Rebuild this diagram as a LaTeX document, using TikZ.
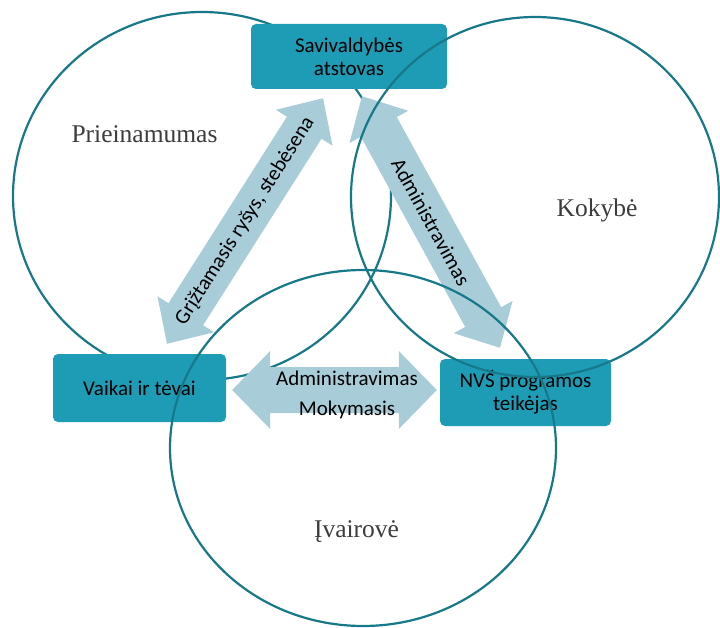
\documentclass[tikz,border=0pt]{standalone}
\usepackage{fontspec}
\newfontfamily\calibri{Carlito}
\newfontfamily\antiqua{Liberation Serif}
\usepackage{tikz}
\usetikzlibrary{calc}
\definecolor{boxteal}{HTML}{1F9CB5}
\definecolor{ringteal}{HTML}{17788A}
\definecolor{arrowblue}{HTML}{A8CDD8}
\definecolor{labelgray}{HTML}{3C3C3C}

% fat double arrow: tip, tip, half shaft, half head, head length
\newcommand{\fatarrow}[5]{%
  \coordinate (fa1) at ($(#1)!#5!(#2)$);
  \coordinate (fa2) at ($(#2)!#5!(#1)$);
  \fill[arrowblue] (#1) -- ($(fa1)!#4!-90:(#2)$) -- ($(fa1)!#3!-90:(#2)$)
    -- ($(fa2)!#3!90:(#1)$) -- ($(fa2)!#4!90:(#1)$) -- (#2)
    -- ($(fa2)!#4!-90:(#1)$) -- ($(fa2)!#3!-90:(#1)$)
    -- ($(fa1)!#3!90:(#2)$) -- ($(fa1)!#4!90:(#2)$) -- cycle;}

\begin{document}
\begin{tikzpicture}
    [x=1pt, y=-1pt,
 box/.style ={rectangle, fill=boxteal, rounded corners=5pt, align=center, inner sep=0pt, font=\calibri\fontsize{21}{23}\selectfont},
 ring/.style ={draw=ringteal, line width=2.2pt},
 tag/.style ={font=\antiqua\fontsize{25.5}{28}\selectfont, text=labelgray, anchor=base},
 arrowtext/.style ={font=\calibri\fontsize{21}{23}\selectfont, inner sep=0pt}]
    \useasboundingbox (0,0) rectangle (720,628);
    % Prieinamumas ring sits under boxes and arrows
    \draw[ring] (202,196) ellipse [x radius=189pt, y radius=184pt];
        \node[box, minimum width=196pt, minimum height=65pt] (sav) at (349,56.5) {Savivaldybės\\atstovas};
        \node[box, minimum width=173pt, minimum height=68pt] (vaik) at (139.5,388) {Vaikai ir tėvai};
        \node[box, minimum width=171pt, minimum height=67pt] (nvs) at (525.5,392.5) {NVŠ programos\\teikėjas};
    \coordinate (la) at ($(vaik.north)+(27.5,-10)$);
    \coordinate (lb) at ($(sav.south)+(-26,9)$);
    \coordinate (ra) at ($(sav.south)+(13,7)$);
    \coordinate (rb) at ($(nvs.north)+(-25.5,-11)$);
    \coordinate (ha) at ($(vaik.east)+(6,2)$);
    \coordinate (hb) at ($(nvs.west)+(-3,-2.5)$);
        \fatarrow{la}{lb}{20.5pt}{33.5pt}{35pt}
        \fatarrow{ra}{rb}{20.5pt}{33.5pt}{35pt}
        \fatarrow{ha}{hb}{23pt}{39pt}{38pt}
    \path let \p1=($(lb)-(la)$) in node[arrowtext, rotate={atan2(\y1,\x1)}] (grizt) at ($(la)!0.5!(lb)$) {Grįžtamasis ryšys, stebėsena};
    \path let \p1=($(rb)-(ra)$) in node[arrowtext, rotate={atan2(\y1,\x1)}] (admr) at ($(ra)!0.5!(rb)$) {Administravimas};
        \node[arrowtext, anchor=base] (admh) at (347,385) {Administravimas};
        \node[arrowtext, anchor=base] (mok) at (347,415.5) {Mokymasis};
    % Kokybe and Ivairove rings lie on top
    \draw[ring] (535,197) ellipse [x radius=184pt, y radius=180pt];
    \draw[ring] (363,448) ellipse [x radius=193pt, y radius=178pt];
        \node[tag] (prie) at (144.5,143) {Prieinamumas};
        \node[tag] (kok) at (597,217) {Kokybė};
        \node[tag] (ivai) at (356.5,537) {Įvairovė};
\end{tikzpicture}
\end{document}
